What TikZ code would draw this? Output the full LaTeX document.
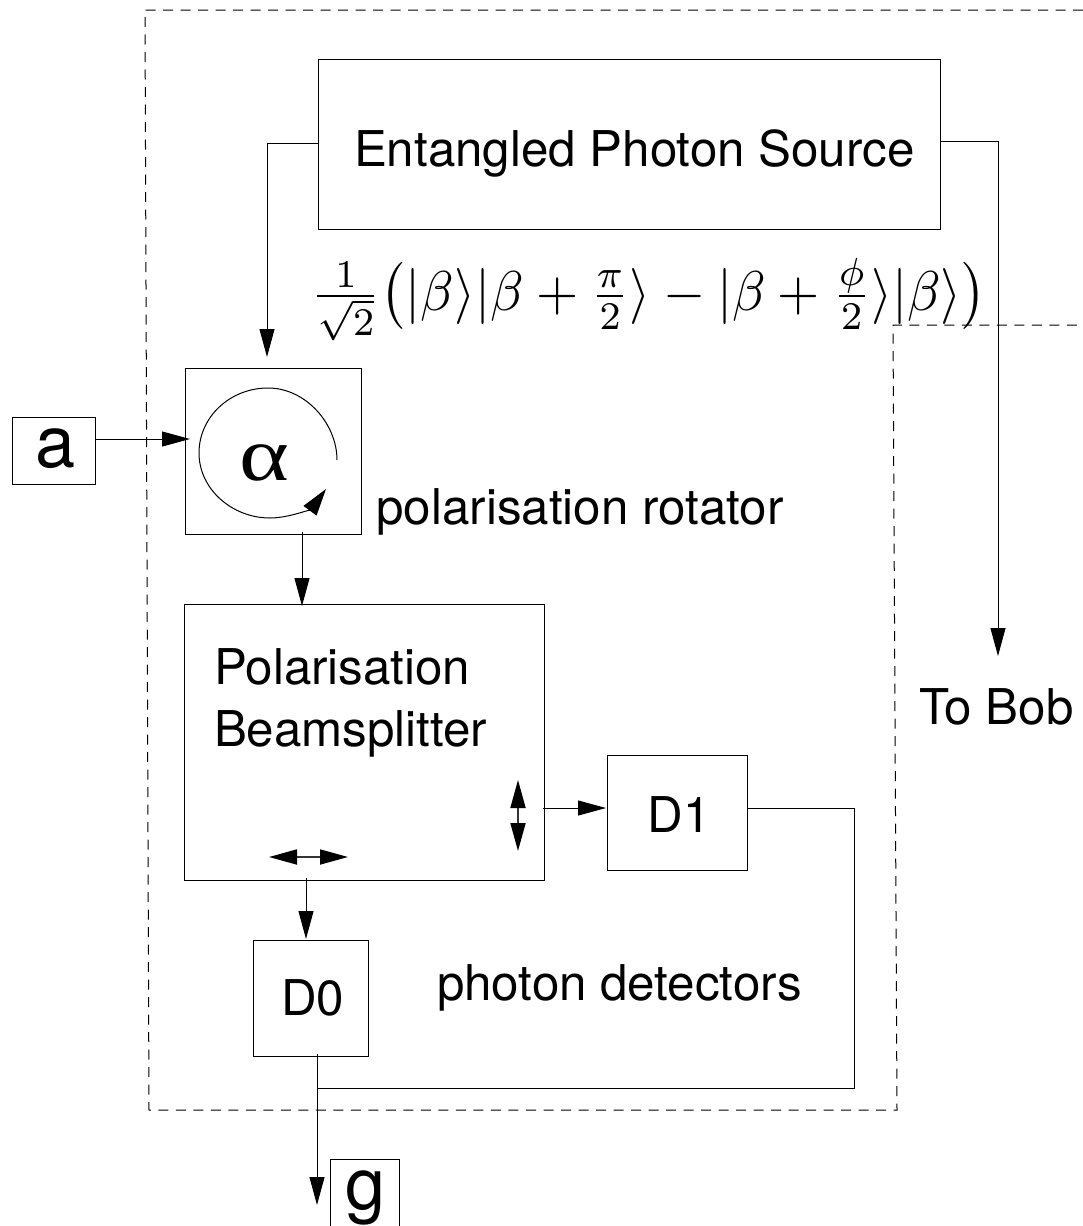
\documentclass[tikz,border=0pt]{standalone}
\usepackage[no-math]{fontspec}
\usepackage{graphicx}
\setmainfont{TeX Gyre Heros}
\newfontfamily\greekfont{Liberation Serif}
\usetikzlibrary{arrows.meta,calc}
\tikzset{
  box/.style={draw=black,line width=1pt,anchor=north west,inner sep=0pt,outer sep=0pt},
  conn/.style={draw=black,line width=1pt,-{Triangle[length=28pt,width=15pt]}},
  wire/.style={draw=black,line width=1pt},
  twoway/.style={draw=black!80,line width=1.8pt,{Triangle[length=28pt,width=15pt,color=black]}-{Triangle[length=28pt,width=15pt,color=black]}},
  border/.style={draw=black,line width=1pt,dash pattern=on 10pt off 7.5pt},
  txt/.style={anchor=base west,inner sep=0pt,outer sep=0pt,font=\fontsize{49.3}{52}\selectfont},
  bigtxt/.style={anchor=base,inner sep=0pt,outer sep=0pt,font=\fontsize{72}{75}\selectfont}
}
\begin{document}
\begin{tikzpicture}[x=1pt,y=-1pt]
\useasboundingbox (0,0) rectangle (1083,1226);
\clip (0,0) rectangle (1083,1226);
% boxes
\node[box,minimum width=622pt,minimum height=170pt] (eps) at (318.6,59) {};
\node[box,minimum width=176pt,minimum height=166pt] (rot) at (185.7,368) {};
\node[box,minimum width=83pt,minimum height=67pt] (a) at (12.7,417) {};
\node[box,minimum width=360pt,minimum height=276pt] (pbs) at (184.6,604) {};
\node[box,minimum width=140pt,minimum height=115pt] (d1) at (607.7,755) {};
\node[box,minimum width=115pt,minimum height=116pt] (d0) at (253.7,940) {};
\node[box,minimum width=69pt,minimum height=100pt] (g) at (330.7,1159) {};
% free ends
\coordinate (bob) at (998,656);
\coordinate (gend) at (317,1205);
\coordinate (join) at (317,1088);
% dashed boundary
\draw[border] (1083,10) -- (145,10) -- (149,1110) -- (897,1110) -- (893,325) -- (1083,325);
% connectors
\draw[conn] (eps.west |- 0,143) -- (267,143) -- (267,357);
\draw[conn] (eps.east |- 0,141) -- (998,141) -- (bob);
\draw[conn] (a.east |- 0,439) -- (190,439);
\draw[conn] (302,532) -- (302,606);
\draw[conn] (543,808) -- (606,808);
\draw[conn] (306,878) -- (306,939);
\draw[wire] (d1.east |- 0,808) -- (854,808) -- (854,1088) -- (join);
\draw[conn] (317,1054) -- (gend);
% polarisation marks
\draw[twoway] (518,780) -- (518,851);
\draw[twoway] (269,857) -- (348,857);
% rotation arrow
\draw[draw=black,line width=1pt,-{Triangle[length=27pt,width=16pt]}] (337,460)
  .. controls (337,424) and (306,388) .. (268,388)
  .. controls (230,388) and (199,417) .. (199,453)
  .. controls (199,489) and (232,518) .. (270,518)
  .. controls (290,518) and (312,508) .. (326,489);
% text
\node[txt] (tEps) at (354,166) {Entangled Photon Source};
\node[txt] (tRot) at (376.5,524) {polarisation rotator};
\node[txt] (tP1) at (214,684) {Polarisation};
\node[txt] (tP2) at (214,746) {Beamsplitter};
\node[txt] (tD1) at (647.5,832) {D1};
\node[txt] (tD0) at (281,1015) {D0};
\node[txt] (tDet) at (437,1000) {photon detectors};
\node[txt] (tBob) at (919,724) {To Bob};
\node[bigtxt] (ta) at (56,467) {a};
\node[bigtxt] (tg) at (366,1209) {g};
\node[anchor=base,inner sep=0pt] (talpha) at (264,480) {\scalebox{1.25}[1]{\fontsize{76}{80}\selectfont\greekfont α}};
\node[anchor=base west,inner sep=0pt] (tform) at (310.5,310) {\scalebox{5.42}[5.6]{$\frac{1}{\sqrt{2}}\bigl(|\beta\rangle|\beta+\frac{\pi}{2}\rangle-|\beta+\frac{\phi}{2}\rangle|\beta\rangle\bigr)$}};
\end{tikzpicture}
\end{document}
